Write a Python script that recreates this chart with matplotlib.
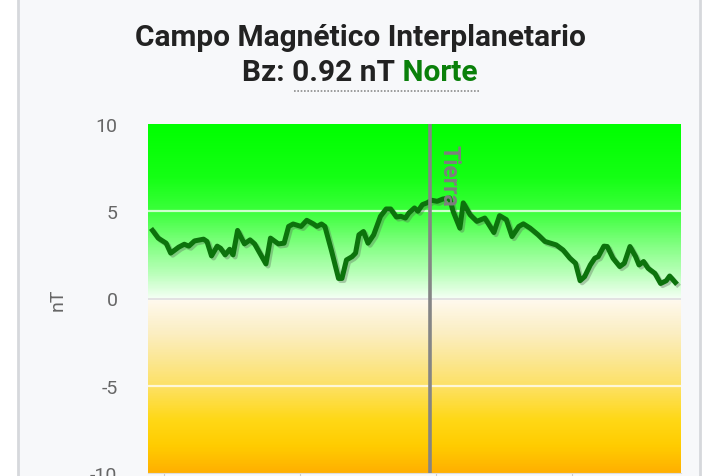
import matplotlib
matplotlib.use('Agg')
import matplotlib.pyplot as plt
import numpy as np
from matplotlib.colors import LinearSegmentedColormap
from matplotlib.lines import Line2D
from matplotlib.patches import Rectangle
import matplotlib.patheffects as pe

plt.rcParams['font.family'] = ['Roboto', 'DejaVu Sans']

# minutes relative to the tick at 0, Bz values in nT
t = np.array([-125, -122.5, -119, -117, -113.5, -111, -109, -106.5, -102.5, -101,
              -99, -96.5, -95, -93, -91, -89.5, -87.5, -84.5, -82, -80,
              -75, -73, -69.5, -67, -65, -63, -59.5, -57, -54, -52.5,
              -50.5, -49, -46, -43, -41.5, -39.5, -37, -35.5, -34, -32,
              -30, -27.5, -24.5, -22, -20, -17.5, -15.5, -13.5, -12, -9.5,
              -8, -6, -4, -2, 0.5, 3, 6, 7.5, 10.5, 12,
              15, 18, 21.5, 25.5, 28, 31, 33.5, 36.5, 38.5, 41.5,
              45, 48, 50.5, 53, 56, 59, 61.5, 63.5, 65.5, 68,
              70, 71.5, 74, 75.5, 78, 81, 83, 85.5, 88, 89.5,
              91.5, 93.5, 96.5, 99, 101.5, 103, 105.5])
bz = np.array([3.9, 3.46, 3.17, 2.6, 2.94, 3.11, 3.0, 3.3, 3.4, 3.27,
               2.44, 3.0, 2.88, 2.5, 2.82, 2.5, 3.9, 3.13, 3.36, 3.13,
               1.98, 3.46, 3.13, 3.17, 4.13, 4.27, 4.13, 4.48, 4.27, 4.13,
               4.27, 4.13, 2.69, 1.15, 1.15, 2.21, 2.4, 2.6, 3.65, 3.84,
               3.17, 3.65, 4.71, 5.13, 5.13, 4.67, 4.71, 4.61, 4.9, 5.19,
               5.0, 5.38, 5.48, 5.63, 5.57, 5.7, 5.76, 5.0, 4.03, 5.48,
               4.8, 4.42, 4.61, 3.78, 4.75, 4.52, 3.55, 4.13, 4.28, 4.03,
               3.65, 3.27, 3.17, 3.07, 2.78, 2.31, 2.02, 1.02, 1.25, 1.92,
               2.31, 2.4, 3.0, 2.98, 2.31, 1.83, 2.02, 2.98, 2.4, 1.92,
               2.12, 1.73, 1.44, 0.86, 1.02, 1.29, 0.92])
tierra_t = -2.6
x_ticks = [-120, -60, 0, 60]
y_ticks = [10, 5, 0, -5, -10]
title = 'Campo Magnético Interplanetario'
bz_now = 0.92

# background gradient stops (value in nT -> colour)
stops = [(10, '#00ff00'), (7, '#14ff14'), (5, '#3cff3c'), (3, '#85ff85'),
         (1.5, '#b8ffb8'), (0.01, '#f4fff4'), (0, '#fffaf0'), (-2, '#fbeec2'),
         (-4, '#fce585'), (-5, '#fde166'), (-7, '#ffd816'), (-8.5, '#ffcc00'),
         (-10, '#ffb000')]
cmap = LinearSegmentedColormap.from_list(
    'bz', [((v + 10) / 20, c) for v, c in sorted(stops)])

fig = plt.figure(figsize=(7.2, 4.77), dpi=100)
fig.patch.set_facecolor('white')
fig.patches.append(Rectangle((18 / 720, 0), 682 / 720, 1, transform=fig.transFigure,
                             facecolor='#f7f8fa', edgecolor='none', zorder=-5))
for xb in [18 / 720, 700 / 720]:
    fig.add_artist(Line2D([xb, xb], [0, 1], color='#d6d8dc', lw=2))

ax = fig.add_axes([148 / 720, 3 / 477, 533 / 720, 349 / 477])
ax.set_facecolor('none')
xmin, xmax = -127, 108
yy = np.linspace(10, -10, 400)
ax.imshow(cmap((yy + 10) / 20)[:, None, :], extent=(xmin, xmax, -10, 10),
          aspect='auto', interpolation='bilinear', zorder=0)

for g in [5, -5]:
    ax.axhline(g, color='white', lw=1.6, alpha=0.75, zorder=1)
ax.axhline(0, color='#e2e2e2', lw=1.4, zorder=1)

ax.plot(t, bz, color='#0c730c', lw=3.6, solid_joinstyle='round', zorder=3,
        path_effects=[pe.SimpleLineShadow(offset=(1.5, -1.5), shadow_color='#556655', alpha=0.35),
                      pe.Normal()])

ax.axvline(tierra_t, color='#858585', lw=2.6, zorder=4)
ax.text(tierra_t + 3.3, 8.85, 'Tierra', rotation=-90, ha='left', va='top',
        color='#7e7e7e', fontsize=16.5, fontweight='bold', zorder=5)

ax.set_xlim(xmin, xmax)
ax.set_ylim(-10, 10)
ax.set_yticks(y_ticks)
ax.set_yticklabels([str(v) for v in y_ticks])
ax.set_xticks(x_ticks)
ax.set_xticklabels([])
ax.tick_params(axis='y', length=0, pad=22, labelsize=14, labelcolor='#666666')
ax.tick_params(axis='x', length=4, color='#cccccc')
for s in ['top', 'right', 'left']:
    ax.spines[s].set_visible(False)
ax.spines['bottom'].set_color('#dddddd')
ax.set_ylabel('nT', fontsize=14, color='#666666', labelpad=17)

fig.text(0.5, 1 - 38 / 477, title, ha='center', va='center', fontsize=21.5,
         fontweight='bold', color='#222222')
t1 = fig.text(0.5, 1 - 73 / 477, 'Bz: %.2f nT' % bz_now, ha='left', va='center',
              fontsize=21.5, fontweight='bold', color='#222222')
t2 = ax.annotate(' Norte', xy=(1, 0), xycoords=t1, ha='left', va='bottom',
                 fontsize=21.5, fontweight='bold', color='#0a800a', annotation_clip=False)
# centre the two-colour subtitle
r = fig.canvas.get_renderer()
w1 = t1.get_window_extent(r).width
w2 = t2.get_window_extent(r).width
t1.set_x(0.5 - (w1 + w2) / 2 / 720)
fig.add_artist(Line2D([294 / 720, 479 / 720], [1 - 92 / 477, 1 - 92 / 477],
                      color='#8c8c8c', lw=1.2, linestyle=(0, (1, 1))))

fig.savefig('out.png', dpi=100)
